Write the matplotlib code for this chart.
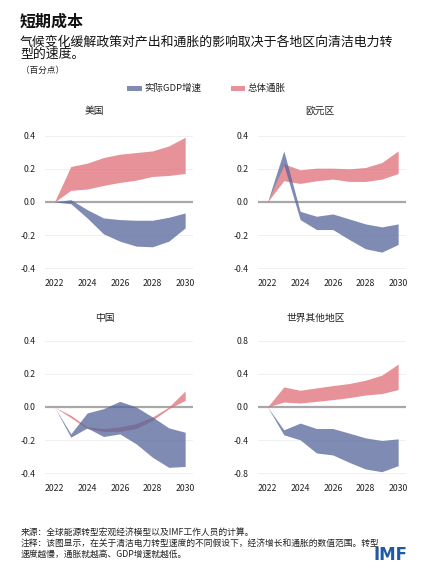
import matplotlib
matplotlib.use("Agg")
import matplotlib.pyplot as plt
from matplotlib.patches import Rectangle
from matplotlib.ticker import FuncFormatter

plt.rcParams['font.family'] = ['Noto Sans CJK SC', 'DejaVu Sans']
plt.rcParams['axes.unicode_minus'] = False

years = [2022, 2023, 2024, 2025, 2026, 2027, 2028, 2029, 2030]

# 美国
us_gdp_hi = [0, 0.014, -0.046, -0.096, -0.106, -0.110, -0.110, -0.092, -0.066]
us_gdp_lo = [0, -0.010, -0.096, -0.192, -0.236, -0.266, -0.270, -0.236, -0.156]
us_inf_hi = [0, 0.214, 0.234, 0.268, 0.288, 0.298, 0.308, 0.338, 0.390]
us_inf_lo = [0, 0.070, 0.078, 0.100, 0.118, 0.132, 0.154, 0.160, 0.172]

# 欧元区
ea_gdp_hi = [0, 0.308, -0.056, -0.086, -0.072, -0.102, -0.132, -0.150, -0.132]
ea_gdp_lo = [0, 0.224, -0.106, -0.166, -0.166, -0.226, -0.282, -0.302, -0.256]
ea_inf_hi = [0, 0.230, 0.194, 0.204, 0.204, 0.200, 0.208, 0.238, 0.308]
ea_inf_lo = [0, 0.128, 0.112, 0.128, 0.138, 0.124, 0.124, 0.138, 0.172]

# 中国
cn_gdp_hi = [0, -0.162, -0.036, -0.010, 0.034, 0.000, -0.060, -0.126, -0.152]
cn_gdp_lo = [0, -0.182, -0.126, -0.178, -0.162, -0.222, -0.303, -0.364, -0.358]
cn_inf_hi = [0, -0.050, -0.120, -0.130, -0.120, -0.100, -0.060, 0.000, 0.097]
cn_inf_lo = [0, -0.064, -0.130, -0.147, -0.147, -0.130, -0.080, -0.010, 0.040]

# 世界其他地区
rw_gdp_hi = [0, -0.275, -0.194, -0.259, -0.259, -0.315, -0.372, -0.404, -0.384]
rw_gdp_lo = [0, -0.335, -0.396, -0.554, -0.578, -0.667, -0.747, -0.780, -0.707]
rw_inf_hi = [0, 0.242, 0.202, 0.230, 0.258, 0.283, 0.323, 0.384, 0.517]
rw_inf_lo = [0, 0.060, 0.048, 0.068, 0.089, 0.113, 0.145, 0.162, 0.210]

panel_titles = ["美国", "欧元区", "中国", "世界其他地区"]
legend_labels = ["实际GDP增速", "总体通胀"]
xticks = [2022, 2024, 2026, 2028, 2030]

blue = "#54659a"
red = "#e06c76"
W, H = 431, 574

fig = plt.figure(figsize=(W / 100, H / 100), dpi=100)


def px(x, y):
    # pixel coords (top-left origin) -> figure fraction
    return x / W, 1 - y / H


def add_panel(left, top, gdp_hi, gdp_lo, inf_hi, inf_lo, lim, step, title, tx, ty):
    width, height = 148, 146
    ax = fig.add_axes([left / W, 1 - (top + height) / H, width / W, height / H])
    ax.axhline(0, color="#a8a8a8", lw=1.6, zorder=1)
    ax.fill_between(years, inf_lo, inf_hi, color=red, alpha=0.75, lw=0, zorder=2)
    ax.fill_between(years, gdp_lo, gdp_hi, color=blue, alpha=0.75, lw=0, zorder=3)
    ax.set_xlim(2021.42, 2030.48)
    ax.set_ylim(-lim * 1.1, lim * 1.1)
    ax.set_xticks(xticks)
    ax.set_yticks([-lim, -step, 0, step, lim])
    ax.yaxis.set_major_formatter(FuncFormatter(lambda v, p: f"{v:.1f}"))
    ax.grid(axis="y", color="#f0f0f0", lw=0.7, zorder=0)
    ax.set_axisbelow(True)
    for s in ax.spines.values():
        s.set_visible(False)
    ax.tick_params(length=0, labelsize=6.3, colors="#222222")
    ax.tick_params(axis="y", pad=7)
    ax.tick_params(axis="x", pad=3)
    fig.text(*px(tx, ty), title, ha="center", va="center", fontsize=7, color="#222222")
    return ax


add_panel(45, 129, us_gdp_hi, us_gdp_lo, us_inf_hi, us_inf_lo, 0.4, 0.2, panel_titles[0], 94, 111)
add_panel(258, 129, ea_gdp_hi, ea_gdp_lo, ea_inf_hi, ea_inf_lo, 0.4, 0.2, panel_titles[1], 320, 111)
add_panel(45, 334, cn_gdp_hi, cn_gdp_lo, cn_inf_hi, cn_inf_lo, 0.4, 0.2, panel_titles[2], 105, 318)
add_panel(258, 334, rw_gdp_hi, rw_gdp_lo, rw_inf_hi, rw_inf_lo, 0.8, 0.4, panel_titles[3], 316, 318)

# 标题
fig.text(*px(20, 22), "短期成本", fontsize=11.5, fontweight="bold", va="center", color="#111111")
fig.text(*px(20, 42), "气候变化缓解政策对产出和通胀的影响取决于各地区向清洁电力转",
         fontsize=9.3, va="center", color="#111111")
fig.text(*px(20, 54.5), "型的速度。", fontsize=9.3, va="center", color="#111111")
fig.text(*px(21, 70), "（百分点）", fontsize=6.2, va="center", color="#222222")

# 图例
for x0, c, lab in [(127.5, blue, legend_labels[0]), (231, red, legend_labels[1])]:
    fig.patches.append(Rectangle(px(x0, 90.5), 14.5 / W, 4 / H, transform=fig.transFigure,
                                 color=c, alpha=0.75, lw=0))
    fig.text(*px(x0 + 17, 88.5), lab, fontsize=6.8, va="center", color="#222222")

# 注释
notes = [
    "来源：全球能源转型宏观经济模型以及IMF工作人员的计算。",
    "注释：该图显示，在关于清洁电力转型速度的不同假设下，经济增长和通胀的数值范围。转型",
    "速度越慢，通胀就越高、GDP增速就越低。",
]
for i, line in enumerate(notes):
    fig.text(*px(21, 532 + i * 11), line, fontsize=6.3, va="center", color="#222222")

fig.text(*px(374, 555), "IMF", fontsize=12, fontweight="bold", va="center",
         color="#1f5aa6", family="DejaVu Sans")

fig.savefig("out.png", dpi=100)
